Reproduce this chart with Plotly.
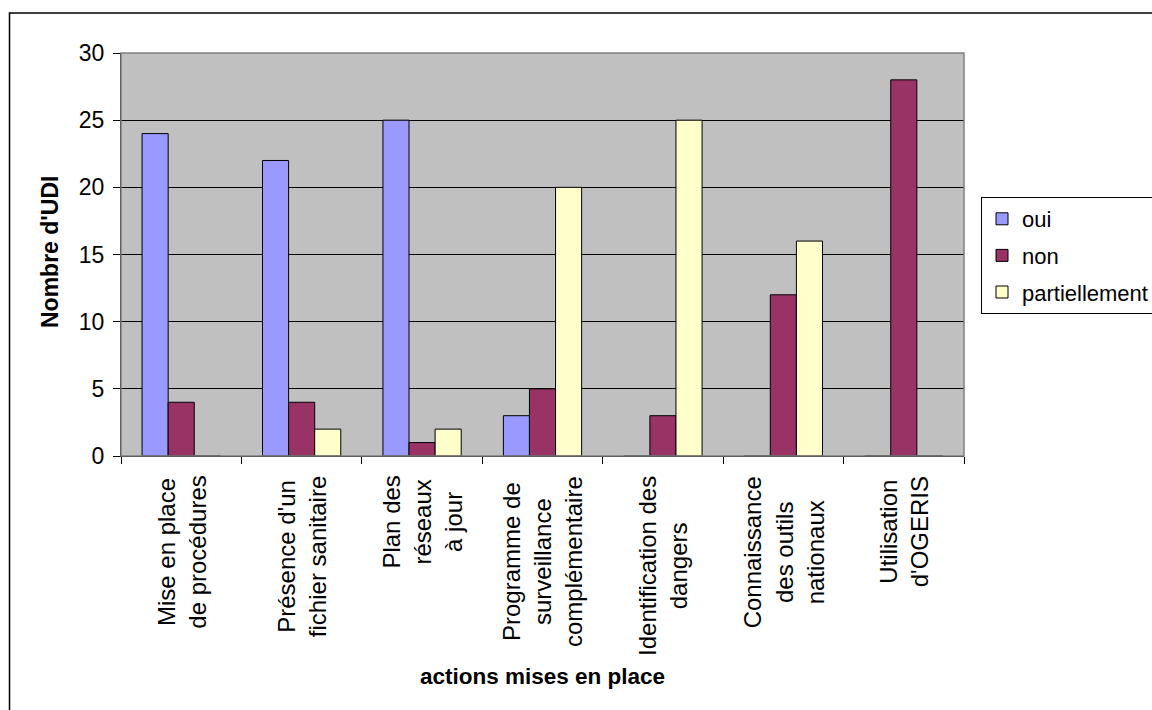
import plotly.graph_objects as go

categories = [
    "Mise en place\nde procédures",
    "Présence d'un\nfichier sanitaire",
    "Plan des\nréseaux\nà jour",
    "Programme de\nsurveillance\ncomplémentaire",
    "Identification des\ndangers",
    "Connaissance\ndes outils\nnationaux",
    "Utilisation\nd'OGERIS",
]
oui = [24, 22, 25, 3, 0, 0, 0]
non = [4, 4, 1, 5, 3, 12, 28]
partiellement = [0, 2, 2, 20, 25, 16, 0]

series_names = ["oui", "non", "partiellement"]
series_colors = ["#9999FF", "#993366", "#FFFFCC"]
y_ticks = [0, 5, 10, 15, 20, 25, 30]

FONT = "Liberation Sans, Arial, sans-serif"
W, H = 1152, 710
L, R, T, B = 121, 964, 53, 456  # plot area in pixels

def px_x(p):
    return (p - L) / (R - L)

def px_y(p):
    return (B - p) / (B - T)

fig = go.Figure()
for name, vals, col in zip(series_names, [oui, non, partiellement], series_colors):
    fig.add_trace(go.Bar(
        x=categories, y=vals, name=name, legendgroup=name,
        marker=dict(color=col, line=dict(color="black", width=1)),
    ))

annotations = []
for c in categories:
    annotations.append(dict(
        x=c, xref="x", y=px_y(474), yref="paper",
        text=c.replace("\n", "<br>"), textangle=-90, showarrow=False,
        xanchor="center", yanchor="top", align="center",
        font=dict(family=FONT, size=24, color="black"),
    ))
annotations.append(dict(
    x=0.5, xref="paper", y=px_y(676), yref="paper",
    text="<b>actions mises en place</b>", showarrow=False,
    xanchor="center", yanchor="middle",
    font=dict(family=FONT, size=22.5, color="black"),
))
annotations.append(dict(
    x=px_x(50), xref="paper", y=px_y(252), yref="paper",
    text="<b>Nombre d'UDI</b>", textangle=-90, showarrow=False,
    xanchor="center", yanchor="middle",
    font=dict(family=FONT, size=23, color="black"),
))

shapes = [
    dict(type="rect", xref="paper", yref="paper", x0=0, x1=1, y0=0, y1=1,
         line=dict(color="#808080", width=1.5), layer="above"),
    dict(type="rect", xref="paper", yref="paper",
         x0=px_x(9.5), x1=px_x(1170), y0=px_y(730), y1=px_y(13),
         line=dict(color="black", width=1.5), fillcolor="rgba(0,0,0,0)", layer="above"),
]

fig.update_layout(
    width=W, height=H,
    margin=dict(l=L, r=W - R, t=T, b=H - B, autoexpand=False),
    paper_bgcolor="white", plot_bgcolor="#C0C0C0",
    barmode="group", bargap=0.35, bargroupgap=0,
    font=dict(family=FONT, size=22, color="black"),
    showlegend=True,
    legend=dict(
        x=px_x(981), y=px_y(197), xanchor="left", yanchor="top",
        bgcolor="white", bordercolor="black", borderwidth=1,
        font=dict(family=FONT, size=22, color="black"),
        tracegroupgap=5, traceorder="grouped",
    ),
    annotations=annotations,
    shapes=shapes,
)
fig.update_xaxes(
    showticklabels=False, ticks="outside", tickson="boundaries", ticklen=7,
    tickcolor="black", showline=True, linecolor="black", linewidth=1,
    showgrid=False, zeroline=False,
)
fig.update_yaxes(
    range=[0, 30], tickvals=y_ticks, ticks="outside", ticklen=7, tickcolor="black",
    showline=True, linecolor="black", linewidth=1,
    showgrid=True, gridcolor="black", gridwidth=1, zeroline=False,
    tickfont=dict(family=FONT, size=23, color="black"),
    ticklabelstandoff=4,
)

fig.write_html("out.html")
